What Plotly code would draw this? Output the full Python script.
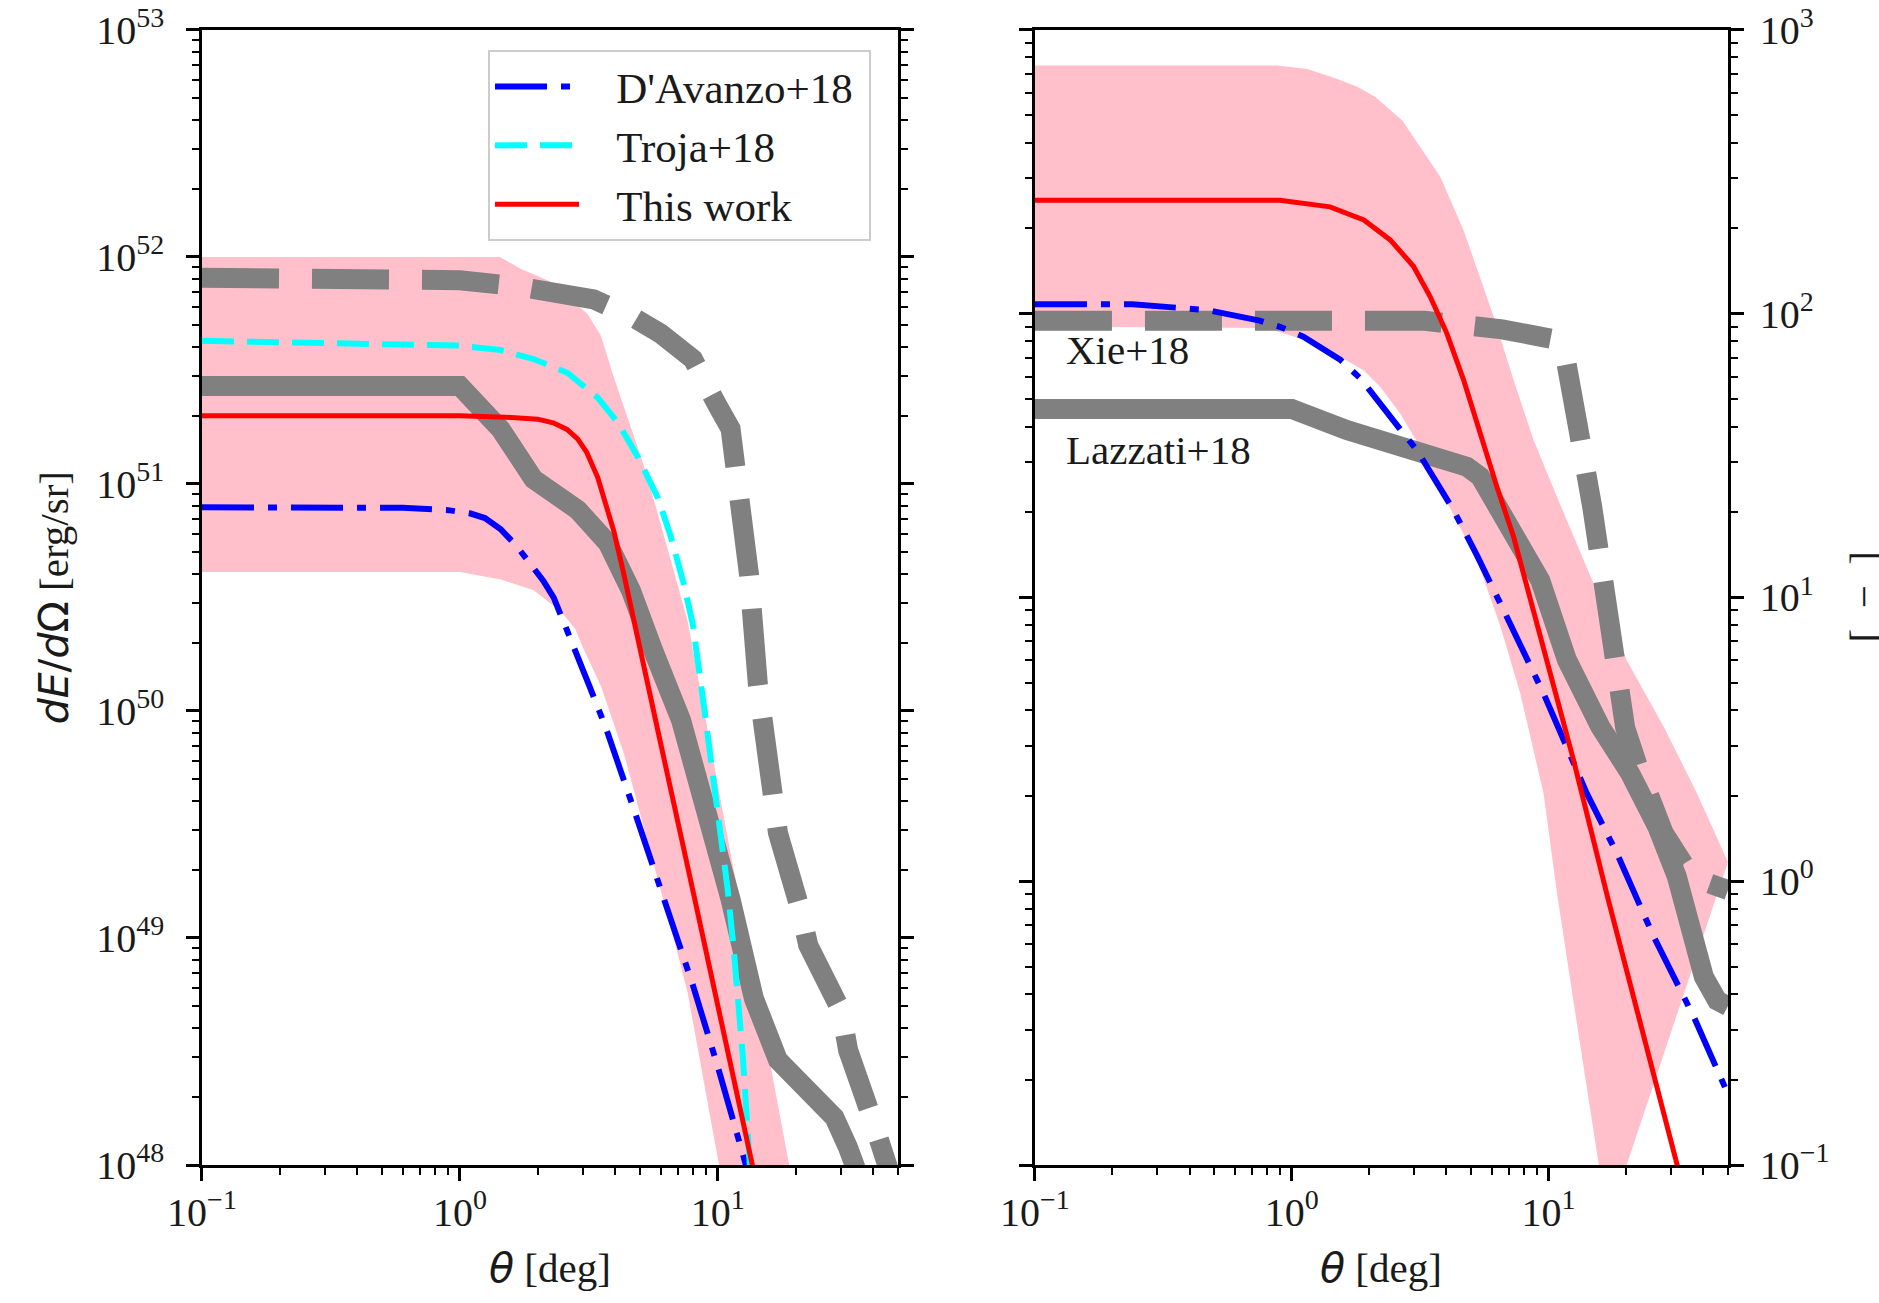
import math
import plotly.graph_objects as go

# ---------------- Left panel: dE/dOmega [erg/sr] vs theta [deg] ----------------
theta_band_lo_L = [0.1, 1.0, 1.44, 1.93, 2.46, 2.8, 3.0, 3.52, 4.32, 5.5, 6.74, 7.63, 8.8, 10.1, 11.0]
E_band_lo_L = [4.1e50, 4.1e50, 3.8e50, 3.4e50, 2.75e50, 2.3e50, 1.9e50, 1.29e50, 6.5e49, 2.35e49,
               1.0e49, 5.75e48, 2.4e48, 1.0e48, 6.3e47]
theta_band_hi_L = [0.1, 1.43, 1.71, 2.24, 3.13, 3.52, 3.95, 4.6, 5.17, 5.85, 6.74, 7.63, 10.0, 12.5, 15.6, 18.9, 20.0]
E_band_hi_L = [1.0e52, 1.0e52, 8.9e51, 7.8e51, 5.6e51, 4.5e51, 2.95e51, 1.78e51, 1.2e51, 7.4e50,
               4.2e50, 2.5e50, 4.7e49, 1.2e49, 3.2e48, 1.0e48, 7.1e47]

theta_xie_L = [0.1, 0.5, 1.0, 1.7, 3.3, 4.6, 6.0, 8.0, 9.1, 10.0, 11.2, 11.7, 12.0, 13.2, 14.3, 15.0,
               16.5, 17.1, 21.0, 22.4, 30.0, 32.0, 40.0, 50.0]
E_xie_L = [8.1e51, 8.1e51, 7.9e51, 7.4e51, 6.5e51, 5.5e51, 4.6e51, 3.55e51, 2.5e51, 2.2e51, 1.75e51,
           1.23e51, 8.5e50, 4.0e50, 1.3e50, 8.5e49, 4.0e49, 2.9e49, 1.3e49, 9.3e48, 4.8e48, 3.2e48,
           1.55e48, 7.1e47]

theta_laz_L = [0.1, 1.0, 1.44, 1.93, 2.86, 3.74, 4.6, 5.17, 5.6, 7.2, 9.66, 11.2, 13.8, 15.6, 17.1,
               19.8, 24.4, 28.3, 31.9, 33.9, 40.0]
E_laz_L = [2.7e51, 2.7e51, 1.74e51, 1.05e51, 7.7e50, 5.5e50, 3.4e50, 2.5e50, 1.86e50, 9.1e49, 2.9e49,
           1.48e49, 5.4e48, 3.55e48, 2.9e48, 2.45e48, 2.0e48, 1.62e48, 1.2e48, 1.0e48, 6.0e47]

theta_dav_L = [0.1, 0.6, 0.9, 1.1, 1.25, 1.44, 1.65, 1.88, 2.1, 2.31, 2.5, 2.7, 3.2, 3.67, 4.72, 6.17,
               8.0, 10.1, 12.1, 12.9, 14.0]
E_dav_L = [7.9e50, 7.85e50, 7.67e50, 7.41e50, 7.08e50, 6.31e50, 5.37e50, 4.47e50, 3.76e50, 3.16e50,
           2.57e50, 2.04e50, 1.26e50, 8.5e49, 3.7e49, 1.48e49, 6.2e48, 2.6e48, 1.29e48, 1.0e48, 7.1e47]

theta_troja_L = [0.1, 1.0, 1.44, 1.93, 2.61, 3.42, 4.1, 4.89, 5.85, 6.56, 7.38, 8.0, 8.83, 10.0, 10.9,
                 11.5, 12.0, 12.5, 13.3, 14.0]
E_troja_L = [4.27e51, 4.07e51, 3.89e51, 3.55e51, 3.09e51, 2.4e51, 1.86e51, 1.32e51, 8.7e50, 5.9e50,
             3.63e50, 2.4e50, 1.05e50, 3.63e49, 1.66e49, 9.1e48, 5.5e48, 3.0e48, 1.0e48, 4.0e47]

theta_this_L = [0.1, 1.0, 1.5, 2.0, 2.3, 2.6, 2.86, 3.1, 3.42, 3.7, 3.95, 4.3, 4.72, 6.0, 8.0, 10.0,
                13.4, 15.0]
E_this_L = [2.0e51, 2.0e51, 1.97e51, 1.93e51, 1.86e51, 1.74e51, 1.58e51, 1.38e51, 1.07e51, 8.1e50,
            6.2e50, 4.1e50, 2.5e50, 7.2e49, 1.62e49, 5.0e48, 1.1e48, 6.0e47]

# ---------------- Right panel: Gamma [-] vs theta [deg] ----------------
theta_band_lo_R = [0.1, 0.8, 1.1, 1.48, 1.91, 2.21, 2.64, 3.16, 4.0, 5.26, 6.5, 7.76, 9.57, 10.8, 12.5, 15.7, 17.0]
G_band_lo_R = [90.2, 89.1, 81.3, 72.1, 63.1, 55.3, 44.6, 34.0, 21.9, 13.6, 7.9, 4.6, 2.04, 0.906,
               0.38, 0.1, 0.063]
theta_band_hi_R = [0.1, 0.88, 1.15, 1.48, 1.8, 2.12, 2.7, 3.79, 4.67, 5.42, 6.11, 7.31, 8.75, 10.8,
                   14.8, 20.2, 28.1, 37.9, 50.0]
G_band_hi_R = [750, 750, 728, 676, 631, 581, 479, 304, 197, 135, 98, 58.5, 35.9, 22.6, 11.5, 6.0, 3.5,
               2.04, 1.17]

theta_xie_R = [0.1, 3.3, 6.6, 9.0, 10.5, 11.5, 12.5, 13.1, 14.8, 16.0, 17.1, 18.0, 19.9, 22.4, 28.1,
               33.6, 40.0, 50.0]
G_xie_R = [94.4, 94.4, 88.1, 85.3, 81.3, 74.5, 52.5, 38.9, 20.9, 13.5, 8.5, 6.17, 3.47, 2.51, 1.48,
           1.15, 1.0, 0.93]

theta_laz_R = [0.1, 1.0, 1.64, 2.98, 4.81, 5.42, 6.89, 8.24, 9.29, 11.8, 15.9, 20.8, 26.5, 31.6, 35.7,
               40.3, 45.4, 50.0]
G_laz_R = [46.2, 46.2, 38.9, 33.1, 28.9, 26.7, 18.8, 14.3, 11.5, 6.03, 3.51, 2.40, 1.56, 1.04, 0.69,
           0.46, 0.38, 0.363]

theta_dav_R = [0.1, 0.24, 0.47, 0.75, 0.9, 1.11, 1.55, 1.85, 2.72, 3.07, 4.27, 5.26, 6.68, 9.57, 14.1,
               18.5, 25.7, 36.8, 50.0]
G_dav_R = [108, 108, 103, 94.6, 89.9, 83.0, 68.7, 59.2, 37.9, 33.1, 20.3, 14.1, 9.04, 4.59, 2.04,
           1.25, 0.638, 0.333, 0.178]

theta_this_R = [0.1, 0.9, 1.41, 1.91, 2.42, 2.98, 3.46, 4.02, 4.67, 5.42, 6.3, 7.31, 8.13, 10.0, 12.5,
                17.1, 22.7, 31.6, 35.0]
G_this_R = [251, 251, 238, 214, 182, 147, 115, 85.3, 58.5, 37.9, 24.5, 16.4, 11.5, 5.7, 2.69, 0.86,
            0.324, 0.1, 0.071]

# tick labels
x_tickvals = [0.1, 1, 10]
x_ticktext = ["10<sup>\u22121</sup>", "10<sup>0</sup>", "10<sup>1</sup>"]
yL_tickvals = [1e48, 1e49, 1e50, 1e51, 1e52, 1e53]
yL_ticktext = ["10<sup>48</sup>", "10<sup>49</sup>", "10<sup>50</sup>", "10<sup>51</sup>",
               "10<sup>52</sup>", "10<sup>53</sup>"]
yR_tickvals = [0.1, 1, 10, 100, 1000]
yR_ticktext = ["10<sup>\u22121</sup>", "10<sup>0</sup>", "10<sup>1</sup>", "10<sup>2</sup>", "10<sup>3</sup>"]

legend_names = ["D'Avanzo+18", "Troja+18", "This work"]

# ---------------- styles ----------------
PINK = "rgb(255,192,203)"
GRAY = "#808080"
SERIF = "Liberation Serif"
FS = 41
GAP = "\u2002\u2005"

fig = go.Figure()


def line(x, y, xa, ya, color, width, dash="solid", name=None, legend=False):
    fig.add_trace(go.Scatter(x=x, y=y, xaxis=xa, yaxis=ya, mode="lines",
                             name=(GAP + name + "\u2005") if name else None,
                             showlegend=legend, hoverinfo="skip",
                             line=dict(color=color, width=width, dash=dash)))


def band(xlo, ylo, xhi, yhi, xa, ya):
    fig.add_trace(go.Scatter(x=xlo, y=ylo, xaxis=xa, yaxis=ya, mode="lines", showlegend=False,
                             hoverinfo="skip", line=dict(width=0, color=PINK)))
    fig.add_trace(go.Scatter(x=xhi, y=yhi, xaxis=xa, yaxis=ya, mode="lines", showlegend=False,
                             hoverinfo="skip", fill="tonexty", fillcolor=PINK,
                             line=dict(width=0, color=PINK)))


XIE_DASH = "77px,33px"
DAV_DASH = "52px,14px,9px,14px"
TRO_DASH = "32px,13px"

# left panel
band(theta_band_lo_L, E_band_lo_L, theta_band_hi_L, E_band_hi_L, "x", "y")
line(theta_xie_L, E_xie_L, "x", "y", GRAY, 20, XIE_DASH)
line(theta_laz_L, E_laz_L, "x", "y", GRAY, 20)
line(theta_dav_L, E_dav_L, "x", "y", "blue", 6, DAV_DASH, legend_names[0], True)
line(theta_troja_L, E_troja_L, "x", "y", "cyan", 6, TRO_DASH, legend_names[1], True)
line(theta_this_L, E_this_L, "x", "y", "red", 5, "solid", legend_names[2], True)

# right panel
band(theta_band_lo_R, G_band_lo_R, theta_band_hi_R, G_band_hi_R, "x2", "y2")
line(theta_xie_R, G_xie_R, "x2", "y2", GRAY, 20, XIE_DASH)
line(theta_laz_R, G_laz_R, "x2", "y2", GRAY, 20)
line(theta_dav_R, G_dav_R, "x2", "y2", "blue", 6, DAV_DASH)
line(theta_this_R, G_this_R, "x2", "y2", "red", 5, "solid")


def minor_vals(e0, e1):
    return [k * 10.0 ** e for e in range(e0, e1) for k in range(2, 10)]


tickfont = dict(family=SERIF, size=40, color="#1a1a1a")
common = dict(type="log", showgrid=False, zeroline=False, showline=True, linecolor="black",
              linewidth=2.5, ticks="outside", ticklen=13, tickwidth=2.5, tickcolor="black",
              tickfont=tickfont, automargin=False)
minor_style = dict(ticks="outside", ticklen=7, tickwidth=2, tickcolor="black", showgrid=False)

xmax = math.log10(50)
fig.update_layout(
    xaxis=dict(**common, domain=[0.1075, 0.478], range=[-1, xmax], anchor="y", mirror=True,
               tickmode="array", tickvals=x_tickvals, ticktext=x_ticktext, ticklabelstandoff=-3,
               minor=dict(**minor_style, tickvals=minor_vals(-1, 2))),
    yaxis=dict(**common, domain=[0.1059, 0.977], range=[48, 53], anchor="x", mirror="ticks",
               tickmode="array", tickvals=yL_tickvals, ticktext=yL_ticktext, ticklabelstandoff=14,
               minor=dict(**minor_style, tickvals=minor_vals(48, 53))),
    xaxis2=dict(**common, domain=[0.5508, 0.9196], range=[-1, xmax], anchor="y2", mirror=True,
                tickmode="array", tickvals=x_tickvals, ticktext=x_ticktext, ticklabelstandoff=-3,
                minor=dict(**minor_style, tickvals=minor_vals(-1, 2))),
    yaxis2=dict(**common, domain=[0.1059, 0.977], range=[-1, 3], anchor="x2", side="right",
                mirror="ticks", tickmode="array", tickvals=yR_tickvals, ticktext=yR_ticktext,
                ticklabelstandoff=8,
                minor=dict(**minor_style, tickvals=minor_vals(-1, 3))),
    width=1879, height=1303, margin=dict(l=0, r=0, t=0, b=0, autoexpand=False),
    plot_bgcolor="white", paper_bgcolor="white",
    showlegend=True,
    legend=dict(x=488 / 1879, y=1 - 50 / 1303, xanchor="left", yanchor="top",
                bgcolor="rgba(255,255,255,0.85)", traceorder="normal",
                bordercolor="#cccccc", borderwidth=2, font=dict(family=SERIF, size=43, color="#1a1a1a"),
                itemwidth=84, tracegroupgap=0),
)

SANS_I = "<span style='font-family:DejaVu Sans'><i>{}</i></span>"
annots = [
    dict(text=SANS_I.format("\u03b8") + " [deg]", x=0.2927, y=0.027),
    dict(text=SANS_I.format("\u03b8") + " [deg]", x=0.7352, y=0.027),
    dict(text="<span style='font-family:DejaVu Sans'><i>dE</i>/<i>d</i>\u03a9</span> [erg/sr]",
         x=0.0287, y=0.5415, textangle=-90),
    dict(text="[\u2002\u2212\u2002]", x=1864 / 1879, y=0.5415, textangle=-90),
    dict(text="Xie+18", x=0.5663, y=0.7314, xanchor="left"),
    dict(text="Lazzati+18", x=0.5663, y=0.6546, xanchor="left"),
]
for a in annots:
    a.setdefault("xanchor", "center")
    fig.add_annotation(xref="paper", yref="paper", showarrow=False, yanchor="middle",
                       font=dict(family=SERIF, size=FS, color="#1a1a1a"), **a)

fig.write_html("out.html", config={"displayModeBar": False},
               post_script="document.body.style.margin='0px';")
